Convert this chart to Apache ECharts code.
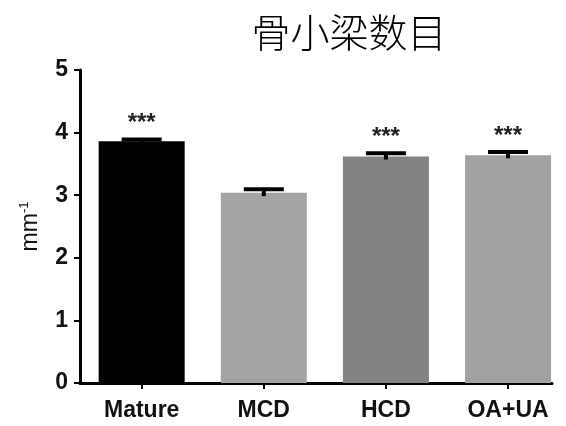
<!DOCTYPE html>
<html>
<head>
<meta charset="utf-8">
<script src="https://cdn.jsdelivr.net/npm/echarts@6/dist/echarts.min.js"></script>
<style>
  html, body { margin: 0; padding: 0; background: #fff; }
  #chart { width: 566px; height: 426px; }
</style>
</head>
<body>
<div id="chart"></div>
<script>
// Trabecular number per group (mean ± SEM, mm^-1)
const categories = ['Mature', 'MCD', 'HCD', 'OA+UA'];
const means = [3.86, 3.04, 3.62, 3.64];
const sems = [0.03, 0.055, 0.05, 0.05];
const stars = ['***', '', '***', '***'];
const barColors = ['#000000', '#a4a4a6', '#838383', '#a2a2a4'];
const yTicks = [0, 1, 2, 3, 4, 5];

const chart = echarts.init(document.getElementById('chart'));
const positions = categories.map((_, i) => i);

chart.setOption({
  animation: false,
  backgroundColor: '#fff',
  title: {
    text: '骨小梁数目',
    left: 344,
    top: 8,
    textAlign: 'center',
    textStyle: {
      fontFamily: 'Noto Sans CJK SC',
      fontSize: 39,
      fontWeight: 300,
      color: '#000'
    }
  },
  grid: { left: 80, right: 14, top: 70, bottom: 43 },
  xAxis: {
    type: 'value',
    min: -0.505,
    max: 3.36,
    splitLine: { show: false },
    axisLine: { show: true, onZero: false, lineStyle: { color: '#000', width: 3 } },
    axisTick: { show: true, customValues: positions, length: 6, lineStyle: { color: '#000', width: 2 } },
    axisLabel: {
      customValues: positions,
      formatter: v => categories[Math.round(v)],
      margin: 16,
      color: '#111',
      fontFamily: 'Liberation Sans, Arial, sans-serif',
      fontWeight: 'bold',
      fontSize: 23
    }
  },
  yAxis: {
    type: 'value',
    min: yTicks[0],
    max: yTicks[yTicks.length - 1],
    interval: 1,
    splitLine: { show: false },
    axisLine: { show: true, onZero: false, lineStyle: { color: '#000', width: 3 } },
    axisTick: { show: true, length: 6, lineStyle: { color: '#000', width: 2 } },
    axisLabel: {
      margin: 12,
      color: '#111',
      fontFamily: 'Liberation Sans, Arial, sans-serif',
      fontWeight: 'bold',
      fontSize: 23
    },
    name: 'mm{sup|-1}',
    nameLocation: 'middle',
    nameGap: 37,
    nameRotate: 90,
    nameTextStyle: {
      color: '#111',
      fontFamily: 'Liberation Sans, Arial, sans-serif',
      fontSize: 23,
      rich: {
        sup: {
          fontFamily: 'Liberation Sans, Arial, sans-serif',
          fontSize: 13,
          verticalAlign: 'top',
          padding: [0, 0, 12, 0],
          color: '#111'
        }
      }
    }
  },
  series: [
    {
      type: 'bar',
      barWidth: 86,
      data: positions.map(i => ({
        value: [i, means[i]],
        itemStyle: { color: barColors[i] }
      }))
    },
    {
      type: 'custom',
      z: 5,
      data: positions.map(i => [i, means[i], sems[i]]),
      renderItem: (params, api) => {
        const i = api.value(0);
        const m = api.value(1);
        const e = api.value(2);
        const hi = api.coord([i, m + e]);
        const lo = api.coord([i, m - e]);
        const half = 20;
        const children = [
          {
            type: 'line',
            shape: { x1: hi[0], y1: hi[1], x2: lo[0], y2: lo[1] },
            style: { stroke: '#000', lineWidth: 4 }
          },
          {
            type: 'line',
            shape: { x1: hi[0] - half, y1: hi[1], x2: hi[0] + half, y2: hi[1] },
            style: { stroke: '#000', lineWidth: 4 }
          }
        ];
        const s = stars[params.dataIndex];
        if (s) {
          children.push({
            type: 'text',
            style: {
              text: s,
              x: hi[0],
              y: hi[1] - 4,
              align: 'center',
              verticalAlign: 'bottom',
              fill: '#222',
              font: 'bold 24px "Liberation Sans", Arial, sans-serif'
            }
          });
        }
        return { type: 'group', children };
      }
    }
  ]
});
</script>
</body>
</html>
